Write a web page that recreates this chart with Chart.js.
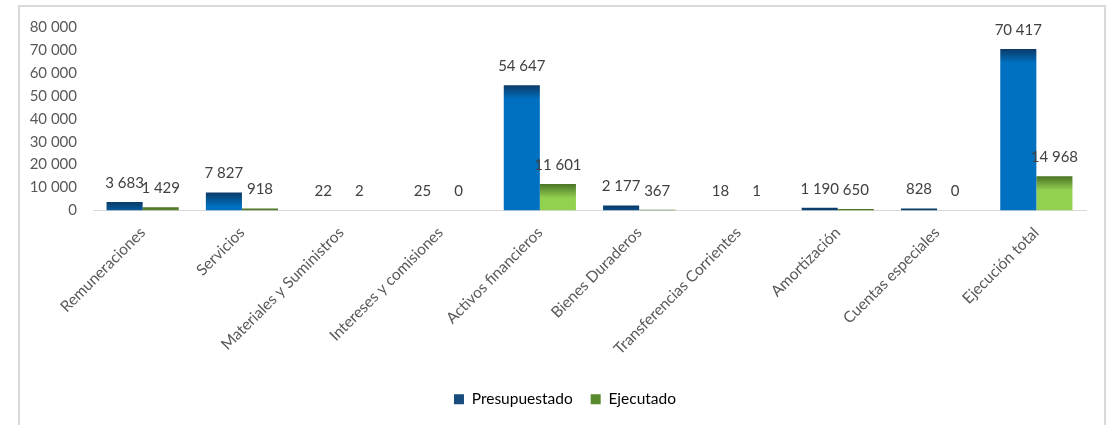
<!DOCTYPE html>
<html>
<head>
<meta charset="utf-8">
<script src="https://cdn.jsdelivr.net/npm/chart.js@4"></script>
<style>
  html, body { margin: 0; padding: 0; background: #fff; }
  #wrap { width: 1114px; height: 425px; }
</style>
</head>
<body>
<div id="wrap"><canvas id="chart" width="1114" height="425"></canvas></div>
<script>
// Presupuesto vs ejecución
const categories = ['Remuneraciones', 'Servicios', 'Materiales y Suministros', 'Intereses y comisiones',
  'Activos financieros', 'Bienes Duraderos', 'Transferencias Corrientes', 'Amortización',
  'Cuentas especiales', 'Ejecución total'];
const presupuestado = [3683, 7827, 22, 25, 54647, 2177, 18, 1190, 828, 70417];
const ejecutado = [1429, 918, 2, 0, 11601, 367, 1, 650, 0, 14968];
const yTicks = [0, 10000, 20000, 30000, 40000, 50000, 60000, 70000, 80000];

const FONT = 'Lato, "Open Sans", sans-serif';
const fmt = v => String(v).replace(/\B(?=(\d{3})+(?!\d))/g, ' ');

// dark top edge fading into the bar colour
function barFill(dark, light) {
  return ctx => {
    const chart = ctx.chart;
    if (ctx.type !== 'data' || !chart.chartArea) return light;
    const top = chart.scales.y.getPixelForValue(ctx.raw);
    const g = chart.ctx.createLinearGradient(0, top, 0, top + 14);
    g.addColorStop(0, dark);
    g.addColorStop(1, light);
    return g;
  };
}

const valueLabels = {
  id: 'valueLabels',
  afterDatasetsDraw(chart) {
    const c = chart.ctx;
    c.save();
    c.font = '15px ' + FONT;
    c.fillStyle = '#404040';
    c.textAlign = 'center';
    c.textBaseline = 'middle';
    chart.data.datasets.forEach((ds, i) => {
      chart.getDatasetMeta(i).data.forEach((bar, j) => {
        c.fillText(fmt(ds.data[j]), bar.x, bar.y - 19);
      });
    });
    c.restore();
  }
};

const frame = {
  id: 'frame',
  afterLayout(chart) {
    // legend sits a little right of the canvas centre
    chart.legend.left += 22;
    chart.legend.right += 22;
  },
  beforeDraw(chart) {
    const c = chart.ctx;
    c.save();
    c.strokeStyle = '#d9d9d9';
    c.lineWidth = 2;
    c.strokeRect(19, 6, 1086, 440);
    c.restore();
  }
};

new Chart(document.getElementById('chart'), {
  type: 'bar',
  data: {
    labels: categories,
    datasets: [
      { label: 'Presupuestado', data: presupuestado, backgroundColor: barFill('#0c3a66', '#0070c0'),
        categoryPercentage: 0.727, barPercentage: 1 },
      { label: 'Ejecutado', data: ejecutado, backgroundColor: barFill('#4a7326', '#92d050'),
        categoryPercentage: 0.727, barPercentage: 1 },
    ],
  },
  options: {
    responsive: false,
    animation: false,
    layout: { padding: { top: 27, right: 28, bottom: 8, left: 0 } },
    plugins: {
      tooltip: { enabled: false },
      legend: {
        position: 'bottom',
        labels: {
          font: { family: FONT, size: 15.5 },
          color: '#595959',
          boxWidth: 10,
          boxHeight: 10,
          padding: 18,
          generateLabels: () => [
            { text: 'Presupuestado', fillStyle: '#184c7c', strokeStyle: '#184c7c', lineWidth: 0, datasetIndex: 0 },
            { text: 'Ejecutado', fillStyle: '#588a2e', strokeStyle: '#588a2e', lineWidth: 0, datasetIndex: 1 },
          ],
        },
      },
    },
    scales: {
      x: {
        grid: { display: false, drawTicks: false },
        border: { display: true, color: '#d9d9d9', width: 1 },
        ticks: {
          font: { family: FONT, size: 15.5 },
          color: '#595959',
          minRotation: 45,
          maxRotation: 45,
          padding: 13,
          autoSkip: false,
        },
        afterFit: s => { s.height = 163; },
      },
      y: {
        min: 0,
        max: 80000,
        grid: { display: false, drawTicks: false },
        border: { display: false },
        afterBuildTicks: s => { s.ticks = yTicks.map(v => ({ value: v })); },
        ticks: {
          font: { family: FONT, size: 15 },
          color: '#595959',
          padding: 16,
          callback: v => fmt(v),
        },
        afterFit: s => { s.width = 93; },
      },
    },
  },
  plugins: [valueLabels, frame],
});
</script>
</body>
</html>
